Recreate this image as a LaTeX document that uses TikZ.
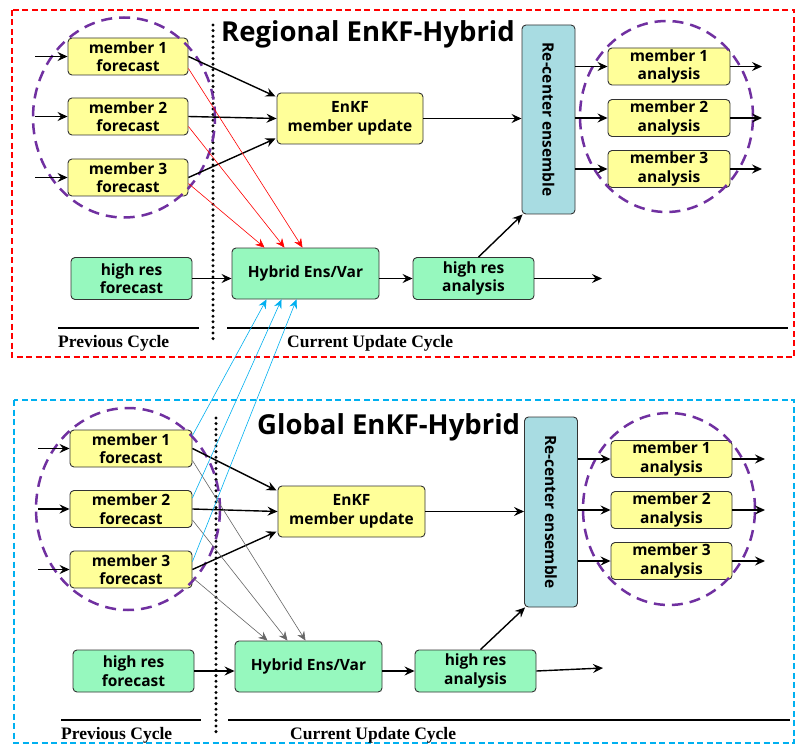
\documentclass[tikz,border=0pt]{standalone}
\usepackage{fontspec}
\usepackage{graphicx}
\setmainfont{Liberation Serif}
\newfontfamily\nodefont{Open Sans}
\usetikzlibrary{arrows.meta,calc}
\definecolor{fyel}{RGB}{255,255,153}
\definecolor{fgrn}{RGB}{150,248,190}
\definecolor{fblu}{RGB}{168,220,226}
\definecolor{cblu}{RGB}{0,176,240}
\definecolor{cpur}{RGB}{112,48,160}
\definecolor{cred}{RGB}{255,0,0}
\begin{document}
\begin{tikzpicture}[x=1pt,y=-1pt,
  box/.style={draw=black!80,line width=0.9pt,rounded corners=4pt,align=center,
    font=\nodefont\bfseries\fontsize{15.5}{18.5}\selectfont,inner sep=0pt},
  ybox/.style={box,fill=fyel,minimum width=120pt,minimum height=37pt},
  gbox/.style={box,fill=fgrn,minimum height=42pt},
  rbox/.style={box,fill=fblu,minimum width=53pt,minimum height=189pt},
  arr/.style={line width=1.4pt,-{Stealth[length=10pt,width=9pt,inset=3.5pt]}},
  thinarr/.style={line width=0.6pt,-{Stealth[length=9pt,width=8pt,inset=3pt]}},
  pur/.style={draw=cpur,line width=2.5pt,dash pattern=on 11pt off 7pt},
  dotline/.style={line width=3.3pt,line cap=round,dash pattern=on 0pt off 5.6pt},
  title/.style={font=\nodefont\bfseries\fontsize{27.5}{30}\selectfont,anchor=west,inner sep=0pt},
  cyc/.style={font=\bfseries\fontsize{17.5}{19}\selectfont,anchor=west,inner sep=0pt},
  rule/.style={line width=1.8pt}
]
\useasboundingbox (0,0) rectangle (795,746);
\fill[white] (0,0) rectangle (795,746);

% ================= TOP PANEL =================
\draw[cred,line width=1.4pt,dash pattern=on 6pt off 3.5pt] (12,10) rectangle (794,357);
\node[title] (t1) at (221,34) {Regional EnKF-Hybrid};
\draw[dotline] (213,25) -- (213,343);

\node[ybox] (m1) at (128,56.5) {member 1\\forecast};
\node[ybox] (m2) at (128,116.5) {member 2\\forecast};
\node[ybox] (m3) at (128,177.5) {member 3\\forecast};
\node[ybox,minimum width=146pt,minimum height=51pt] (enkf) at (350,118.5) {EnKF\\member update};
\node[rbox] (rc) at (548.5,119.5) {\rotatebox{-90}{Re-center ensemble}};
\node[ybox,minimum width=122pt] (a1) at (669,66.5) {member 1\\analysis};
\node[ybox,minimum width=122pt] (a2) at (669,118) {member 2\\analysis};
\node[ybox,minimum width=122pt] (a3) at (669,169) {member 3\\analysis};
\node[gbox,minimum width=121pt] (hf) at (131.5,278.5) {high res\\forecast};
\node[gbox,minimum width=147pt,minimum height=51pt] (hy) at (305.5,273.5) {Hybrid Ens/Var};
\node[gbox,minimum width=121pt] (ha) at (473.5,278.5) {high res\\analysis};

\draw[pur] (124,117.5) ellipse [x radius=91pt,y radius=100pt];
\draw[pur] (666.5,116.5) ellipse [x radius=86.5pt,y radius=95.5pt];

\coordinate (i1) at (35,56.5);
\coordinate (i2) at (35,116.5);
\coordinate (i3) at (35,177.5);
\draw[arr] (i1) -- (m1.west);
\draw[arr] (i2) -- (m2.west);
\draw[arr] (i3) -- (m3.west);
\draw[arr] (m1.east) -- ($(enkf.west)+(-1,-22)$);
\draw[arr] (m2.east) -- (enkf.west);
\draw[arr] (m3.east) -- ($(enkf.west)+(-1,20)$);
\draw[arr] (enkf.east) -- (rc.west |- enkf.east);
\draw[arr] (rc.east |- a1.west) -- (a1.west);
\draw[arr] (rc.east |- a2.west) -- (a2.west);
\draw[arr] (rc.east |- a3.west) -- (a3.west);
\coordinate (o1) at (762,66.5);
\coordinate (o2) at (762,118);
\coordinate (o3) at (762,169);
\draw[arr] (a1.east) -- (o1);
\draw[arr] (a2.east) -- (o2);
\draw[arr] (a3.east) -- (o3);
\draw[arr] (hf.east) -- (hy.west |- hf.east);
\draw[arr] (hy.east |- ha.west) -- (ha.west);
\coordinate (oh) at (602,278.5);
\draw[arr] (ha.east) -- (oh);
\draw[arr] ($(ha.north)+(5,0)$) -- ($(rc.south west)+(1,0)$);

\draw[cred,thinarr] ($(m1.east)+(0,12)$) -- ($(hy.north)+(-3,0)$);
\draw[cred,thinarr] ($(m2.east)+(0,10)$) -- ($(hy.north)+(-21,0)$);
\draw[cred,thinarr] ($(m3.east)+(0,6)$) -- ($(hy.north)+(-41,0)$);

\draw[rule] (58,328) -- (199,328);
\draw[rule] (227,328) -- (788,328);
\node[cyc] (pc1) at (58,343) {Previous Cycle};
\node[cyc] (cc1) at (287,343) {Current Update Cycle};

% ================= BOTTOM PANEL =================
\draw[cblu,line width=1.4pt,dash pattern=on 6pt off 3.5pt] (14,400) rectangle (794,743);
\node[title] (t2) at (257,427) {Global EnKF-Hybrid};
\draw[dotline] (216,418) -- (216,735);

\node[ybox,minimum width=122pt] (b1) at (131,448.5) {member 1\\forecast};
\node[ybox,minimum width=122pt] (b2) at (131,509) {member 2\\forecast};
\node[ybox,minimum width=122pt] (b3) at (131,569.5) {member 3\\forecast};
\node[ybox,minimum width=147pt,minimum height=51pt] (benkf) at (351.5,511.5) {EnKF\\member update};
\node[rbox,minimum height=190pt] (brc) at (551,512) {\rotatebox{-90}{Re-center ensemble}};
\node[ybox,minimum width=121pt] (ba1) at (671.5,459) {member 1\\analysis};
\node[ybox,minimum width=121pt] (ba2) at (671.5,510) {member 2\\analysis};
\node[ybox,minimum width=121pt] (ba3) at (671.5,561) {member 3\\analysis};
\node[gbox,minimum width=121pt] (bhf) at (133.5,671) {high res\\forecast};
\node[gbox,minimum width=147pt,minimum height=51pt] (bhy) at (308.5,666.5) {Hybrid Ens/Var};
\node[gbox,minimum width=121pt] (bha) at (475.5,671) {high res\\analysis};

\draw[pur] (128,509) ellipse [x radius=92pt,y radius=101pt];
\draw[pur] (669,509) ellipse [x radius=86pt,y radius=96pt];

\coordinate (j1) at (38,448.5);
\coordinate (j2) at (38,509);
\coordinate (j3) at (38,569.5);
\draw[arr] (j1) -- (b1.west);
\draw[arr] (j2) -- (b2.west);
\draw[arr] (j3) -- (b3.west);
\draw[arr] (b1.east) -- ($(benkf.west)+(-1,-21)$);
\draw[arr] (b2.east) -- (benkf.west);
\draw[arr] (b3.east) -- ($(benkf.west)+(-1,20)$);
\draw[arr] (benkf.east) -- (brc.west |- benkf.east);
\draw[arr] (brc.east |- ba1.west) -- (ba1.west);
\draw[arr] (brc.east |- ba2.west) -- (ba2.west);
\draw[arr] (brc.east |- ba3.west) -- (ba3.west);
\coordinate (p1) at (765,459);
\coordinate (p2) at (765,510);
\coordinate (p3) at (765,561);
\draw[arr] (ba1.east) -- (p1);
\draw[arr] (ba2.east) -- (p2);
\draw[arr] (ba3.east) -- (p3);
\draw[arr] (bhf.east) -- (bhy.west |- bhf.east);
\draw[arr] (bhy.east |- bha.west) -- (bha.west);
\coordinate (ph) at (603,668);
\draw[arr] (bha.east) -- (ph);
\draw[arr] ($(bha.north)+(5,0)$) -- ($(brc.south west)+(1,0)$);

\draw[black!60,thinarr] ($(b1.east)+(0,12)$) -- ($(bhy.north)+(-3,0)$);
\draw[black!60,thinarr] ($(b2.east)+(0,11)$) -- ($(bhy.north)+(-21,0)$);
\draw[black!60,thinarr] ($(b3.east)+(0,8)$) -- ($(bhy.north)+(-41,0)$);

\draw[rule] (61,720) -- (201,720);
\draw[rule] (228,720) -- (790,720);
\node[cyc] (pc2) at (61,735) {Previous Cycle};
\node[cyc] (cc2) at (290,735) {Current Update Cycle};

% ================= cross-panel blue arrows =================
\draw[cblu,thinarr] ($(b1.east)+(0,-13)$) -- ($(hy.south)+(-39,0)$);
\draw[cblu,thinarr] ($(b2.east)+(0,-11)$) -- ($(hy.south)+(-24,0)$);
\draw[cblu,thinarr] ($(b3.east)+(0,-8)$) -- ($(hy.south)+(-9,0)$);
\end{tikzpicture}
\end{document}
